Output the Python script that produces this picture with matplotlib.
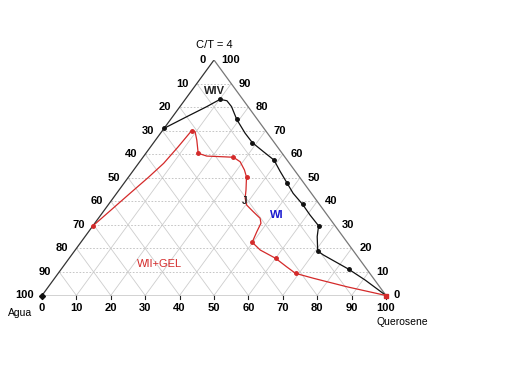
import numpy as np
import matplotlib
matplotlib.use("Agg")
import matplotlib.pyplot as plt

plt.rcParams['font.family'] = ['Liberation Sans', 'DejaVu Sans']

# Composiciones (%) leidas del diagrama: Querosene y C/T (Agua = 100 - Q - C/T)
# curva negra (limite WIV / WI) - puntos marcados
q_negro = [0, 10.1, 19.2, 28.7, 38.7, 47.5, 56.4, 65.6, 70.7, 83.5, 100]
ct_negro = [71, 83.3, 74.8, 64.9, 57.5, 47.6, 38.7, 29.6, 18.9, 11.2, 0]
# trazado de la curva negra
q_negro_l = [0, 4.1, 7.8, 10.1, 12.4, 15.0, 19.2, 24.6, 28.7, 33.8, 38.7, 42.7,
             47.5, 51.3, 56.4, 60.8, 65.6, 67.5, 70.7, 73.2, 83.5, 90.6, 100]
ct_negro_l = [71, 75.9, 80.2, 83.3, 82.7, 80.2, 74.8, 68.9, 64.9, 61.1, 57.5, 52.9,
              47.6, 43.4, 38.7, 34.2, 29.6, 25.0, 18.9, 17.2, 11.2, 6.6, 0]

# curva roja (limite WII+GEL) - puntos marcados
q_rojo = [0, 8.5, 15.2, 26.3, 34.3, 49.8, 60.0, 69.0, 100]
ct_rojo = [29.5, 70.0, 60.4, 58.7, 50.3, 22.6, 15.8, 9.4, 0]
# trazado de la curva roja
q_rojo_l = [0, 2.0, 3.9, 5.8, 7.3, 8.0, 8.5, 9.7, 12.0, 15.2, 18.3, 23.3, 26.3, 29.2,
            32.2, 34.3, 36.9, 38.4, 40.3, 43.6, 47.0, 48.3, 48.9, 49.8, 53.8, 60.0,
            65.0, 69.0, 75.3, 86.8, 100]
ct_rojo_l = [29.5, 36.6, 43.4, 50.0, 56.1, 63.0, 70.0, 69.6, 66.0, 60.4, 59.2, 58.9,
             58.7, 56.8, 53.3, 50.3, 44.8, 41.3, 38.4, 35.6, 32.8, 30.7, 27.1, 22.6,
             19.3, 15.8, 12.2, 9.4, 7.3, 3.7, 0]

niveles = list(range(0, 101, 10))
rojo = '#d42a2a'


def xy(q, c):
    q = np.asarray(q, float)
    c = np.asarray(c, float)
    return q + c / 2, c


fig = plt.figure(figsize=(5.12, 3.84), dpi=100)
ax = fig.add_axes([42 / 512, 88.5 / 384, 344 / 512, 235.5 / 384])
ax.set_xlim(0, 100)
ax.set_ylim(0, 100)
ax.axis('off')

# rejilla
gris = '#cdcdcd'
for v in niveles[1:-1]:
    # C/T constante (horizontal, punteada)
    x, y = xy([0, 100 - v], [v, v])
    ax.plot(x, y, color='#bdbdbd', lw=0.6, ls=(0, (2, 2)), zorder=1)
    # Querosene constante
    x, y = xy([v, v], [0, 100 - v])
    ax.plot(x, y, color=gris, lw=0.6, zorder=1)
    # Agua constante
    x, y = xy([100 - v, 0], [0, 100 - v])
    ax.plot(x, y, color=gris, lw=0.6, zorder=1)

# bordes del triangulo
ax.plot([0, 50], [0, 100], color='#333333', lw=0.9, zorder=2)
ax.plot([50, 100], [100, 0], color='#777777', lw=0.9, zorder=2)
ax.plot([0, 100], [0, 0], color='#222222', lw=1.0, zorder=2)

# marcas y etiquetas
for v in niveles:
    # eje inferior (Querosene)
    ax.plot([v, v], [0, -1.4], color='#222222', lw=0.8, clip_on=False)
    ax.text(v, -5.5, str(v), ha='center', va='center', fontsize=8,
            fontweight='bold')
    # eje izquierdo (Agua)
    x, y = xy(0, 100 - v)
    ax.text(x - 2.4, y, str(v), ha='right', va='center', fontsize=8,
            fontweight='bold')
    # eje derecho (C/T)
    x, y = xy(100 - v, v)
    ax.text(x + 2.2, y, str(v), ha='left', va='center', fontsize=8,
            fontweight='bold')

# curvas
x, y = xy(q_negro_l, ct_negro_l)
ax.plot(x, y, color='#111111', lw=0.9, zorder=3)
x, y = xy(q_negro, ct_negro)
ax.plot(x, y, 'o', color='#111111', ms=2.5, zorder=4)

x, y = xy(q_rojo_l, ct_rojo_l)
ax.plot(x, y, color=rojo, lw=0.9, zorder=3)
x, y = xy(q_rojo, ct_rojo)
ax.plot(x, y, 'o', color=rojo, ms=2.5, zorder=4)
ax.plot([0], [0], 'D', color='#111111', ms=3, zorder=4, clip_on=False)
ax.plot([100], [0], 's', color=rojo, ms=3.5, zorder=5, clip_on=False)

# textos
ax.text(50, 106.5, 'C/T = 4', ha='center', va='center', fontsize=8)
ax.text(50, 87, 'WIV', ha='center', va='center', fontsize=8, fontweight='bold',
        color='#222222')
ax.text(68.3, 34, 'WI', ha='center', va='center', fontsize=8, fontweight='bold',
        color='#1a1ad0')
ax.text(34.3, 13.5, 'WII+GEL', ha='center', va='center', fontsize=8, color=rojo)
ax.text(59.0, 40.0, 'J', ha='center', va='center', fontsize=7, fontweight='bold',
        color='#222222')
ax.text(-6.3, -7.5, 'Agua', ha='center', va='center', fontsize=7.5)
ax.text(104.7, -11.3, 'Querosene', ha='center', va='center', fontsize=7.5)

fig.savefig('out.png', dpi=100)
